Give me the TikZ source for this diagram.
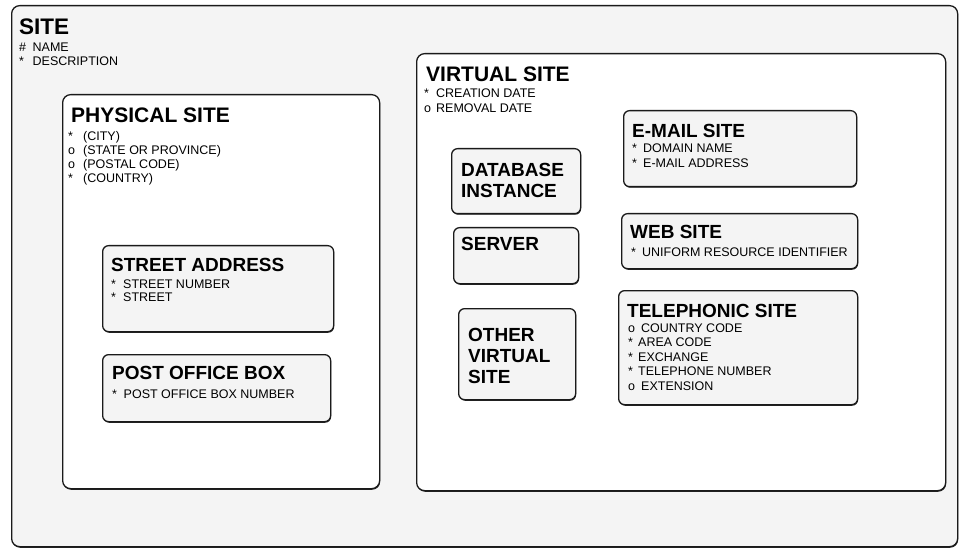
\documentclass[tikz,border=0pt]{standalone}
\usepackage{fontspec}
\setmainfont{Liberation Sans}
\usetikzlibrary{shadows}
\definecolor{boxgray}{HTML}{F4F4F4}
\definecolor{edge}{HTML}{1A1A1A}
\tikzset{
  anybox/.style={draw=edge, line width=1.3pt, inner sep=0pt, anchor=north west,
    drop shadow={shadow xshift=0.5pt, shadow yshift=-1.1pt, fill=black, opacity=0.85}},
  bigbox/.style={anybox, rounded corners=8pt},
  smallbox/.style={anybox, rounded corners=6pt, fill=boxgray},
  ttl/.style={anchor=base west, inner sep=0pt, font=\bfseries\fontsize{19}{22}\selectfont},
  bigttl/.style={ttl, font=\bfseries\fontsize{21}{24}\selectfont},
  itm/.style={anchor=base west, inner sep=0pt, font=\fontsize{12.5}{14}\selectfont},
}
\begin{document}
\begin{tikzpicture}[x=1pt, y=-1pt]
\useasboundingbox (0,0) rectangle (964,548);
% boxes
\node[bigbox, fill=boxgray, minimum width=946pt, minimum height=541pt] (site) at (11,5) {};
\node[bigbox, fill=white, minimum width=317pt, minimum height=394pt] (phys) at (62,94) {};
\node[bigbox, fill=white, minimum width=529pt, minimum height=437pt] (virt) at (416,53) {};
\node[smallbox, minimum width=231pt, minimum height=86pt] (street) at (102,245) {};
\node[smallbox, minimum width=228pt, minimum height=67pt] (pobox) at (102,354) {};
\node[smallbox, minimum width=233pt, minimum height=76pt] (email) at (623,110) {};
\node[smallbox, minimum width=236pt, minimum height=55pt] (web) at (621,213) {};
\node[smallbox, minimum width=239pt, minimum height=114pt] (tel) at (618,290) {};
\node[smallbox, minimum width=129pt, minimum height=65pt] (db) at (451,148) {};
\node[smallbox, minimum width=125pt, minimum height=56pt] (server) at (453,227) {};
\node[smallbox, minimum width=117pt, minimum height=91pt] (other) at (458,308) {};
% SITE
\node[ttl, font=\bfseries\fontsize{22.5}{26}\selectfont] (site-t) at (19,35) {SITE};
\foreach \b/\t [count=\i] in {{\#}/{NAME}, {*}/{DESCRIPTION}}
  \node[itm] (site-\i) at (19,{52+14*(\i-1)}) {\makebox[13.5pt][l]{\b}\t};
% PHYSICAL SITE
\node[bigttl] (phys-t) at (71,123) {PHYSICAL SITE};
\foreach \b/\t [count=\i] in {{*}/{(CITY)}, {o}/{(STATE OR PROVINCE)}, {o}/{(POSTAL CODE)}, {*}/{(COUNTRY)}}
  \node[itm] (phys-\i) at (68,{141+14*(\i-1)}) {\makebox[15pt][l]{\b}\t};
% STREET ADDRESS
\node[ttl] (street-t) at (111,271) {STREET ADDRESS};
\foreach \b/\t [count=\i] in {{*}/{STREET NUMBER}, {*}/{STREET}}
  \node[itm] (street-\i) at (111,{288+13.5*(\i-1)}) {\makebox[12pt][l]{\b}\t};
% POST OFFICE BOX
\node[ttl] (pobox-t) at (112,379) {POST OFFICE BOX};
\node[itm] (pobox-1) at (112,398) {\makebox[11.5pt][l]{*}POST OFFICE BOX NUMBER};
% VIRTUAL SITE
\node[bigttl] (virt-t) at (426,82) {VIRTUAL SITE};
\foreach \b/\t [count=\i] in {{*}/{CREATION DATE}, {o}/{REMOVAL DATE}}
  \node[itm] (virt-\i) at (424,{98+14.5*(\i-1)}) {\makebox[12pt][l]{\b}\t};
% DATABASE INSTANCE
\node[ttl] (db-1) at (461,177) {DATABASE};
\node[ttl] (db-2) at (461,198) {INSTANCE};
% SERVER
\node[ttl] (server-t) at (461,251) {SERVER};
% OTHER VIRTUAL SITE
\node[ttl] (other-1) at (468,341) {OTHER};
\node[ttl] (other-2) at (468,362) {VIRTUAL};
\node[ttl] (other-3) at (468,383) {SITE};
% E-MAIL SITE
\node[ttl] (email-t) at (632,138) {E-MAIL SITE};
\foreach \b/\t [count=\i] in {{*}/{DOMAIN NAME}, {*}/{E-MAIL ADDRESS}}
  \node[itm] (email-\i) at (632,{153+14.5*(\i-1)}) {\makebox[11pt][l]{\b}\t};
% WEB SITE
\node[ttl] (web-t) at (630,239) {WEB SITE};
\node[itm] (web-1) at (631,256) {\makebox[11pt][l]{*}UNIFORM RESOURCE IDENTIFIER};
% TELEPHONIC SITE
\node[ttl] (tel-t) at (627,317) {TELEPHONIC SITE};
\foreach \b/\w/\t [count=\i] in {{o}/13/{COUNTRY CODE}, {*}/10/{AREA CODE}, {*}/10/{EXCHANGE}, {*}/10/{TELEPHONE NUMBER}, {o}/13/{EXTENSION}}
  \node[itm] (tel-\i) at (628,{332+14.5*(\i-1)}) {\makebox[\w pt][l]{\b}\t};
\end{tikzpicture}
\end{document}
